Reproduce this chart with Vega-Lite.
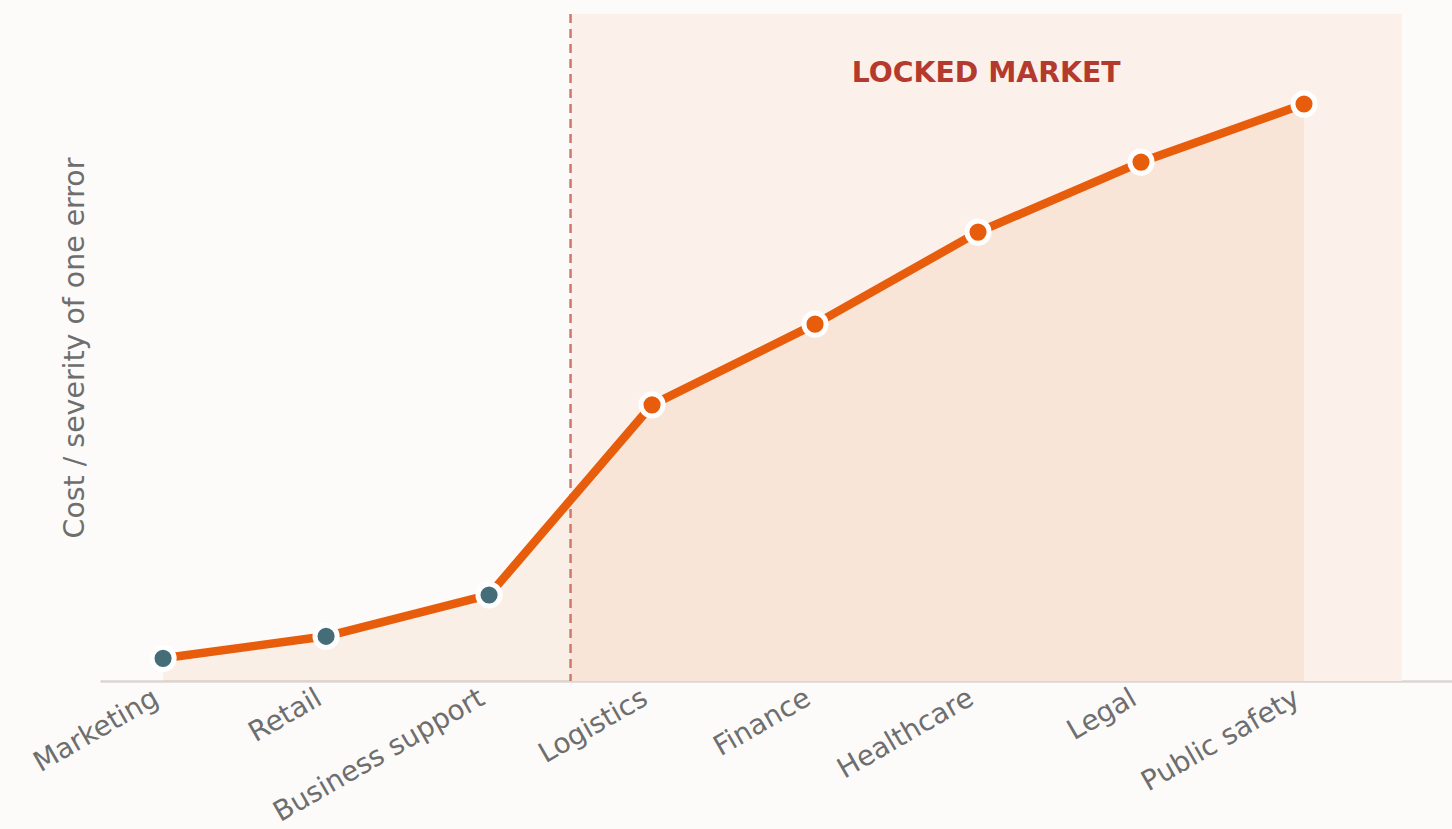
{
  "$schema": "https://vega.github.io/schema/vega-lite/v6.json",
  "width": 1352,
  "height": 667,
  "autosize": {"type": "none"},
  "padding": {"left": 100, "top": 14, "right": 0, "bottom": 148},
  "background": "#fcfbf9",
  "config": {
    "view": {"stroke": null},
    "font": "DejaVu Sans"
  },
  "datasets": {
    "sectors": [
      {"sector": "Marketing", "idx": 0, "value": 3.4, "group": "open"},
      {"sector": "Retail", "idx": 1, "value": 6.7, "group": "open"},
      {"sector": "Business support", "idx": 2, "value": 12.9, "group": "open"},
      {"sector": "Logistics", "idx": 3, "value": 41.4, "group": "locked"},
      {"sector": "Finance", "idx": 4, "value": 53.5, "group": "locked"},
      {"sector": "Healthcare", "idx": 5, "value": 67.3, "group": "locked"},
      {"sector": "Legal", "idx": 6, "value": 77.8, "group": "locked"},
      {"sector": "Public safety", "idx": 7, "value": 86.5, "group": "locked"}
    ],
    "zone": [{"start": 2.5, "end": 7.6}],
    "note": [{"label": "LOCKED MARKET", "x": 5.05, "y": 91.0}]
  },
  "layer": [
    {
      "data": {"name": "zone"},
      "mark": {"type": "rect", "color": "#fbf0ea"},
      "encoding": {
        "x": {"field": "start", "type": "quantitative",
          "scale": {"domain": [-0.387, 7.908], "nice": false, "zero": false},
          "axis": {
            "values": [0, 1, 2, 3, 4, 5, 6, 7],
            "labelExpr": "['Marketing','Retail','Business support','Logistics','Finance','Healthcare','Legal','Public safety'][datum.value]",
            "labelAngle": -30,
            "labelAlign": "right",
            "labelBaseline": "bottom",
            "labelFontSize": 27.8,
            "labelColor": "#6e6e6e",
            "labelPadding": 27,
            "labelOverlap": false,
            "labelFlush": false,
            "labelLimit": 0,
            "ticks": false,
            "grid": false,
            "domainColor": "#dad6d2",
            "domainWidth": 2.5,
            "title": null
          }
        },
        "x2": {"field": "end"}
      }
    },
    {
      "data": {"name": "sectors"},
      "mark": {"type": "area", "color": "#e8600c", "opacity": 0.08},
      "encoding": {
        "x": {"field": "idx", "type": "quantitative"},
        "y": {"field": "value", "type": "quantitative",
          "scale": {"domain": [0, 100], "nice": false},
          "axis": {
            "title": "Cost / severity of one error",
            "titleFontSize": 28.4,
            "titleFontWeight": "normal",
            "titleColor": "#6e6e6e",
            "titlePadding": 11,
            "labels": false,
            "ticks": false,
            "domain": false,
            "grid": false
          }
        }
      }
    },
    {
      "data": {"name": "zone"},
      "mark": {"type": "rule", "color": "#cc7a6e", "strokeWidth": 2.5, "strokeDash": [9, 6]},
      "encoding": {
        "x": {"field": "start", "type": "quantitative"}
      }
    },
    {
      "data": {"name": "sectors"},
      "mark": {"type": "line", "color": "#e85d0c", "strokeWidth": 8.5, "strokeCap": "round", "strokeJoin": "round"},
      "encoding": {
        "x": {"field": "idx", "type": "quantitative"},
        "y": {"field": "value", "type": "quantitative"}
      }
    },
    {
      "data": {"name": "sectors"},
      "mark": {"type": "point", "filled": true, "opacity": 1, "size": 490, "stroke": "white", "strokeWidth": 5},
      "encoding": {
        "x": {"field": "idx", "type": "quantitative"},
        "y": {"field": "value", "type": "quantitative"},
        "fill": {"field": "group", "type": "nominal",
          "scale": {"domain": ["open", "locked"], "range": ["#446d77", "#e85d0c"]},
          "legend": null}
      }
    },
    {
      "data": {"name": "note"},
      "mark": {"type": "text", "fontSize": 28.3, "fontWeight": "bold", "color": "#b53a2e", "align": "center", "baseline": "middle"},
      "encoding": {
        "x": {"field": "x", "type": "quantitative"},
        "y": {"field": "y", "type": "quantitative"},
        "text": {"field": "label"}
      }
    }
  ]
}
